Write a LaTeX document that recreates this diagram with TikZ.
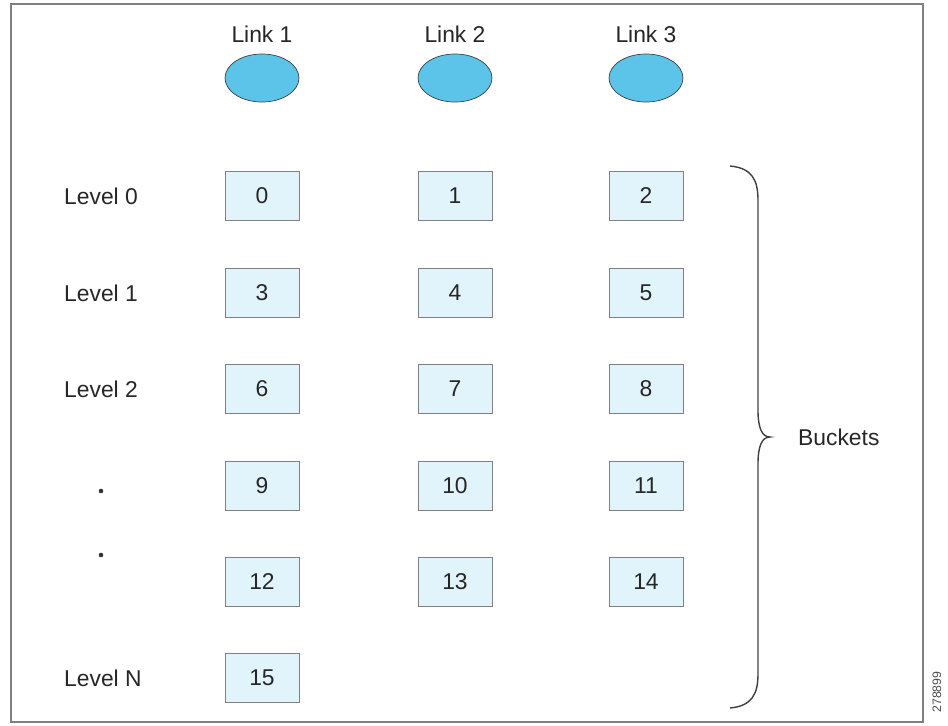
\documentclass[tikz,border=0pt]{standalone}
\usepackage{fontspec}
\setmainfont{Liberation Sans}
\usepackage{xcolor}
\usetikzlibrary{shapes.geometric}

\definecolor{linkblue}{HTML}{5BC4E8}
\definecolor{bucketfill}{HTML}{E2F4FB}
\definecolor{framegray}{HTML}{808080}

\begin{document}
\begin{tikzpicture}[x=0.02cm,y=-0.02cm,
    every node/.style={font=\fontsize{13}{15}\selectfont,text=black!85},
    linknode/.style={ellipse,draw=black!75,fill=linkblue,minimum width=74*0.02cm,minimum height=48*0.02cm,inner sep=0pt},
    bucket/.style={rectangle,draw=black!50,fill=bucketfill,minimum width=74*0.02cm,minimum height=49*0.02cm,inner sep=0pt}]
  \useasboundingbox (0,0) rectangle (948,725);
  % frame
  \draw[framegray,line width=0.8pt] (11,4) -- (923,4) -- (923,722) -- (11,722) -- cycle;
  % links
  \foreach \n/\x in {1/262,2/455,3/646} {
    \node[linknode] (link\n) at (\x,78) {};
    \node (lbl\n) at (\x,34) {Link \n};
  }
  % levels
  \node[anchor=west] (lev0) at (58,196) {Level 0};
  \node[anchor=west] (lev1) at (58,293) {Level 1};
  \node[anchor=west] (lev2) at (58,389) {Level 2};
  \node[anchor=west] (levN) at (58,678) {Level N};
  \fill[black!80] (101,491) circle (1.3pt);
  \fill[black!80] (101,555) circle (1.3pt);
  % buckets
  \foreach \r/\y in {0/196,1/293,2/389,3/486,4/582} {
    \foreach \c/\x in {0/262,1/455,2/646} {
      \pgfmathtruncatemacro{\k}{3*\r+\c}
      \node[bucket] (b\k) at (\x,\y) {\k};
    }
  }
  \node[bucket] (b15) at (262,678) {15};
  % brace
  \draw[black!75,line width=0.8pt] (730,166) .. controls (752,168) and (758,180) .. (758,200)
        -- (758,410) .. controls (758,428) and (762,437) .. (770,437)
        .. controls (762,437) and (758,446) .. (758,464)
        -- (758,674) .. controls (758,694) and (752,706) .. (730,708);
  \node[anchor=west] (buckets) at (792,437) {Buckets};
  % figure number
  \node[rotate=90,font=\fontsize{7}{8}\selectfont,text=black!70] (fignum) at (937,692) {278899};
\end{tikzpicture}
\end{document}
